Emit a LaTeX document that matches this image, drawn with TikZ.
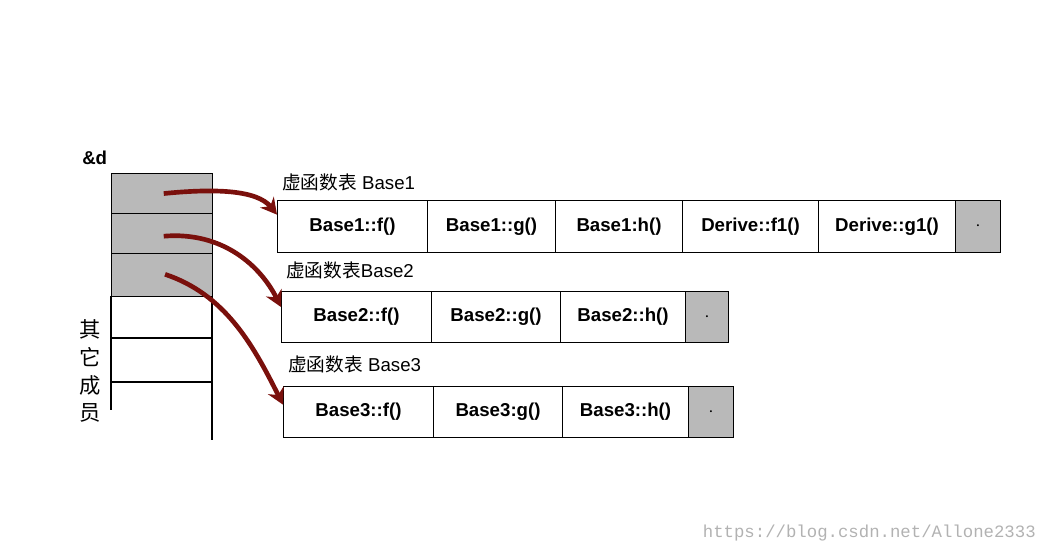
\documentclass[tikz,border=0pt]{standalone}
\usepackage{fontspec}
\setmainfont{Liberation Sans}
\newfontfamily\cjk{Noto Sans CJK SC}
\setmonofont{Liberation Mono}
\usetikzlibrary{positioning,arrows.meta}
\definecolor{arrowred}{RGB}{122,16,12}
\tikzset{cell/.style={draw, thick, inner sep=0pt, anchor=north west, font=\fontsize{14}{14}\selectfont\bfseries}}
\tikzset{grey cell/.style={cell, fill=gray!55}}
\tikzset{table label/.style={anchor=south west, inner sep=0pt, font=\fontsize{14}{14}\selectfont}}
\tikzset{pointer/.style={arrowred, line width=3.5pt, -{Stealth[length=12pt,width=13pt]}}}
\begin{document}
\begin{tikzpicture}[x=0.75pt, y=-0.75pt]
  \useasboundingbox (0,0) rectangle (1047,553);

  % object layout of d
  \node [anchor=south west, inner sep=0pt, font=\fontsize{14}{14}\selectfont\bfseries] (addr) at (82,165) {\&d};
  \foreach \i/\top/\h in {1/173/40, 2/213/40, 3/253/43}
    \node [grey cell, minimum width=75.75pt, minimum height=\h*0.75pt] (vptr\i) at (111,\top) {};
  \draw [thick] (111,296) -- (111,410) (212,296) -- (212,440)
    (111,338) -- (212,338) (111,382) -- (212,382);
  \foreach \c [count=\k] in {其,它,成,员}
    \node [font=\cjk\fontsize{16}{16}\selectfont] (other\k) at (90,301+28*\k) {\c};

  % tables
  \node [table label] (lab1) at (282,191) {{\cjk 虚函数表} Base1};
  \node [table label] (lab2) at (286,279) {{\cjk 虚函数表}Base2};
  \node [table label] (lab3) at (288,373) {{\cjk 虚函数表} Base3};

  \foreach \x/\w/\t [count=\k] in {277/150/Base1::f(), 427/128/Base1::g(), 555/127/Base1:h(), 682/136/Derive::f1(), 818/137/Derive::g1()}
    \node [cell, minimum width=\w*0.75pt, minimum height=39pt] (a\k) at (\x,200) {\t};
  \node [grey cell, minimum width=33.75pt, minimum height=39pt] (a6) at (955,200) {$\cdot$};

  \foreach \x/\w/\t [count=\k] in {281/150/Base2::f(), 431/129/Base2::g(), 560/125/Base2::h()}
    \node [cell, minimum width=\w*0.75pt, minimum height=38.25pt] (b\k) at (\x,291) {\t};
  \node [grey cell, minimum width=32.25pt, minimum height=38.25pt] (b4) at (685,291) {$\cdot$};

  \foreach \x/\w/\t [count=\k] in {283/150/Base3::f(), 433/129/Base3:g(), 562/126/Base3::h()}
    \node [cell, minimum width=\w*0.75pt, minimum height=38.25pt] (c\k) at (\x,386) {\t};
  \node [grey cell, minimum width=33.75pt, minimum height=38.25pt] (c4) at (688,386) {$\cdot$};

  % pointers
  \draw [pointer] ([xshift=-37pt,yshift=0pt]vptr1.east) .. controls +(50,-5) and +(-20,-25) .. ([yshift=-11pt]a1.north west);
  \draw [pointer] ([xshift=-37pt,yshift=-2pt]vptr2.east) .. controls +(60,-5) and +(-20,-40) .. ([yshift=-12pt]b1.north west);
  \draw [pointer] ([xshift=-36pt,yshift=-16pt]vptr3.north east) .. controls +(60,20) and +(-30,-60) .. ([yshift=-14pt]c1.north west);

  \node [anchor=east, inner sep=0pt, text=gray!60, font=\ttfamily\fontsize{13}{13}\selectfont] (mark) at (1036,533) {https://blog.csdn.net/Allone2333};
\end{tikzpicture}
\end{document}
